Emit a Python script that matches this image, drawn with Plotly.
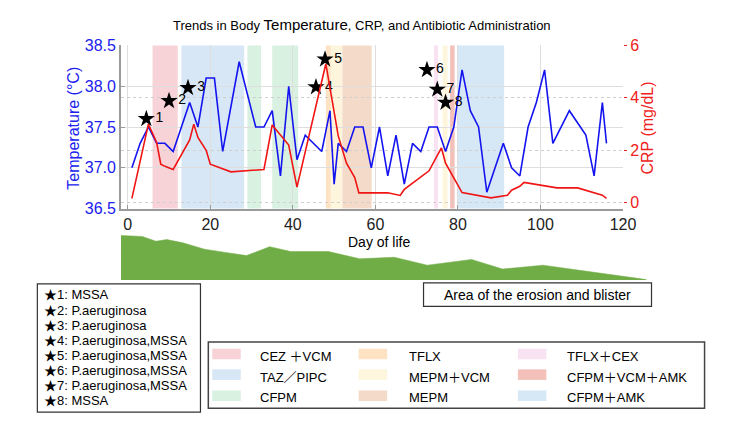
import plotly.graph_objects as go

# ---------------- data ----------------
temp_days = [1, 3, 5, 7, 9, 11, 15, 17, 19, 21, 23, 27, 31, 33, 35, 37, 39, 41, 43, 47,
             49, 50, 51, 53, 55, 57, 59, 61, 63, 65, 67, 69, 71, 73, 75, 77, 79, 81, 83,
             85, 87, 91, 93, 95, 97, 99, 101, 103, 107, 111, 113, 115, 116]
temperature = [37.0, 37.3, 37.5, 37.3, 37.3, 37.2, 37.8, 37.5, 38.1, 38.1, 37.2, 38.3, 37.5,
               37.5, 37.7, 36.9, 38.0, 37.1, 37.4, 37.2, 37.7, 36.8, 37.3, 37.2, 37.5, 37.5,
               37.0, 37.5, 36.9, 37.4, 36.8, 37.3, 37.2, 37.5, 37.5, 37.2, 37.5, 38.2, 37.7,
               37.5, 36.7, 37.3, 37.0, 36.9, 37.5, 37.8, 38.2, 37.3, 37.7, 37.4, 36.9, 37.8, 37.3]

crp_days = [1, 5, 7, 8, 9, 11, 15, 16, 17, 19, 20, 25, 33, 35, 39, 41, 48, 51, 53, 55, 56,
            63, 66, 67, 73, 76, 77, 81, 88, 92, 93, 95, 96, 101, 104, 109, 115, 116]
crp = [0.17, 3.0, 2.3, 1.47, 1.39, 1.27, 2.4, 3.0, 2.49, 2.0, 1.47, 1.18, 1.27, 2.97, 2.2,
       0.6, 5.3, 2.55, 1.51, 0.96, 0.38, 0.38, 0.28, 0.51, 1.22, 2.09, 1.51, 0.39, 0.19,
       0.29, 0.48, 0.63, 0.78, 0.66, 0.57, 0.57, 0.29, 0.17]

star_labels = ["1", "2", "3", "4", "5", "6", "7", "8"]
star_days = [4.5, 10, 14.6, 45.6, 47.8, 72.5, 75, 77]
star_temps = [37.6, 37.82, 37.98, 37.99, 38.33, 38.2, 37.96, 37.8]
star_organisms = ["MSSA", "P.aeruginosa", "P.aeruginosa", "P.aeruginosa,MSSA",
                  "P.aeruginosa,MSSA", "P.aeruginosa,MSSA", "P.aeruginosa,MSSA", "MSSA"]

drug_names = ["CEZ ＋VCM", "TAZ／PIPC", "CFPM", "TFLX", "MEPM＋VCM", "MEPM",
              "TFLX＋CEX", "CFPM＋VCM＋AMK", "CFPM＋AMK"]
drug_colors = ["#f7d3d7", "#d7e7f5", "#d9f1e0", "#fde2c4", "#fef6dc", "#f4dbc9",
               "#f9e2f2", "#f4c0ba", "#d6e7f6"]

span_drug = [0, 1, 2, 2, 3, 4, 5, 6, 4, 7, 8]
span_start = [6, 13, 29, 35, 48, 49.2, 52, 74.2, 76.3, 78.1, 80]
span_end = [12.1, 28.2, 32.3, 41.3, 49.2, 52, 59.1, 75.2, 77.5, 79.2, 91.2]

erosion_t = [0, 4.06, 6.67, 8.73, 11.8, 15.9, 19.9, 23.9, 28.3, 32.3, 39.5, 45.4, 52.0,
             58.3, 66.7, 72.6, 80.3, 87.8, 94.1, 100]
erosion_area = [95.9, 93.8, 83.5, 87.0, 80.0, 66.4, 59.4, 52.6, 71.8, 61.4, 61.4, 45.8,
                49.1, 32.0, 44.3, 23.7, 32.0, 19.6, 9.9, 1.0]

x_ticks = [0, 20, 40, 60, 80, 100, 120]
temp_ticks = [36.5, 37.0, 37.5, 38.0, 38.5]
crp_ticks = [0, 2, 4, 6]

# ---------------- figure ----------------
W, H = 750, 422
FONT = "Liberation Sans, Arial, Noto Sans CJK JP, DejaVu Sans"


def px(x):
    return x / W


def py(y):
    return 1 - y / H


fig = go.Figure()

# antibiotic spans
for d, s, e in zip(span_drug, span_start, span_end):
    fig.add_shape(type="rect", xref="x", yref="y domain", x0=s, x1=e, y0=0, y1=1,
                  fillcolor=drug_colors[d], line=dict(width=0), layer="below")

fig.add_trace(go.Scatter(x=temp_days, y=temperature, mode="lines",
                         line=dict(color="#1414f0", width=1.6), xaxis="x", yaxis="y"))
fig.add_trace(go.Scatter(x=star_days, y=star_temps, mode="markers+text",
                         marker=dict(symbol="star", size=13, color="black"),
                         text=star_labels, textposition="middle right",
                         textfont=dict(size=14, color="black", family=FONT),
                         cliponaxis=False, xaxis="x", yaxis="y"))
fig.add_trace(go.Scatter(x=crp_days, y=crp, mode="lines",
                         line=dict(color="#f01414", width=1.6), xaxis="x", yaxis="y2"))

# erosion area
fig.add_trace(go.Scatter(x=erosion_t, y=erosion_area, mode="lines", fill="tozeroy",
                         fillcolor="#70ad47", line=dict(color="#70ad47", width=0.5),
                         xaxis="x3", yaxis="y3"))

fig.update_layout(
    width=W, height=H, margin=dict(l=0, r=0, t=0, b=0),
    paper_bgcolor="white", plot_bgcolor="white", showlegend=False,
    font=dict(family=FONT),
    xaxis=dict(domain=[px(123), px(634)], range=[-1.67, 120], tickvals=x_ticks,
               showgrid=True, gridcolor="#dedede", gridwidth=1, zeroline=False,
               showline=True, linecolor="#9a9a9a", linewidth=1.5,
               ticks="inside", ticklen=4, tickcolor="#9a9a9a",
               tickfont=dict(size=16, color="#222222"), anchor="y"),
    yaxis=dict(domain=[py(209), py(39)], range=[36.5, 38.5], tickvals=temp_ticks,
               tickformat=".1f", showgrid=True, gridcolor="#dedede", zeroline=False,
               showline=True, linecolor="#9a9a9a", linewidth=1.5,
               ticks="inside", ticklen=4, tickcolor="#9a9a9a",
               tickfont=dict(size=16, color="#2020f0"), anchor="x"),
    yaxis2=dict(overlaying="y", side="right", range=[-0.22, 6], tickvals=crp_ticks,
                showgrid=True, gridcolor="#cfcfcf", griddash="dot", zeroline=False,
                showline=False, ticks="outside", ticklen=3, tickcolor="#f02020",
                tickfont=dict(size=16, color="#f02020"), anchor="x"),
    xaxis3=dict(domain=[px(123), px(658)], range=[0, 100], visible=False, anchor="y3"),
    yaxis3=dict(domain=[py(283.5), py(235)], range=[0, 100], visible=False, anchor="x3"),
)

ann = []
ann.append(dict(x=px(368), y=py(17), xref="paper", yref="paper", showarrow=False,
                text="Trends in Body <span style='font-size:15px'>Temperature</span>, CRP, and Antibiotic Administration",
                font=dict(size=13, color="black", family=FONT), xanchor="center", yanchor="middle"))
ann.append(dict(x=px(75), y=py(125), xref="paper", yref="paper", showarrow=False,
                text="Temperature (°C)", textangle=-90,
                font=dict(size=16, color="#2020f0", family=FONT), xanchor="center", yanchor="middle"))
ann.append(dict(x=px(659), y=py(125), xref="paper", yref="paper", showarrow=False,
                text="CRP (mg/dL)", textangle=-90,
                font=dict(size=16, color="#f02020", family=FONT), xanchor="center", yanchor="middle"))
ann.append(dict(x=px(385.5), y=py(244), xref="paper", yref="paper", showarrow=False,
                text="Day of life", font=dict(size=14, color="black", family=FONT),
                xanchor="center", yanchor="middle"))

# organism legend box
fig.add_shape(type="rect", xref="paper", yref="paper", x0=px(38), x1=px(204),
              y0=py(421), y1=py(287.5), line=dict(color="#333333", width=1.2),
              fillcolor="white", layer="above")
for i, (lab, org) in enumerate(zip(star_labels, star_organisms)):
    ann.append(dict(x=px(43), y=py(299 + 15.7 * i), xref="paper", yref="paper",
                    showarrow=False, text=f"★{lab}: {org}",
                    font=dict(size=13, color="black", family=FONT),
                    xanchor="left", yanchor="middle"))

# erosion label box
fig.add_shape(type="rect", xref="paper", yref="paper", x0=px(431), x1=px(663),
              y0=py(311), y1=py(286.5), line=dict(color="#333333", width=1.2),
              fillcolor="white", layer="above")
ann.append(dict(x=px(547), y=py(299), xref="paper", yref="paper", showarrow=False,
                text="Area of the erosion and blister",
                font=dict(size=14, color="black", family=FONT),
                xanchor="center", yanchor="middle"))

# antibiotic legend box
fig.add_shape(type="rect", xref="paper", yref="paper", x0=px(212), x1=px(717),
              y0=py(417), y1=py(348), line=dict(color="#444444", width=1.5),
              fillcolor="white", layer="above")
col_sw = [216, 365, 527]
col_tx = [263, 414, 575]
row_sw = [360.5, 382, 404]
row_tx = [363, 385, 406]
for k, (name, col) in enumerate(zip(drug_names, drug_colors)):
    c, r = k // 3, k % 3
    fig.add_shape(type="rect", xref="paper", yref="paper",
                  x0=px(col_sw[c]), x1=px(col_sw[c] + 29),
                  y0=py(row_sw[r] + 5.5), y1=py(row_sw[r] - 5.5),
                  fillcolor=col, line=dict(width=0), layer="above")
    ann.append(dict(x=px(col_tx[c]), y=py(row_tx[r]), xref="paper", yref="paper",
                    showarrow=False, text=name,
                    font=dict(size=13, color="black", family=FONT),
                    xanchor="left", yanchor="middle"))

fig.update_layout(annotations=ann)
fig.write_html("out.html")
